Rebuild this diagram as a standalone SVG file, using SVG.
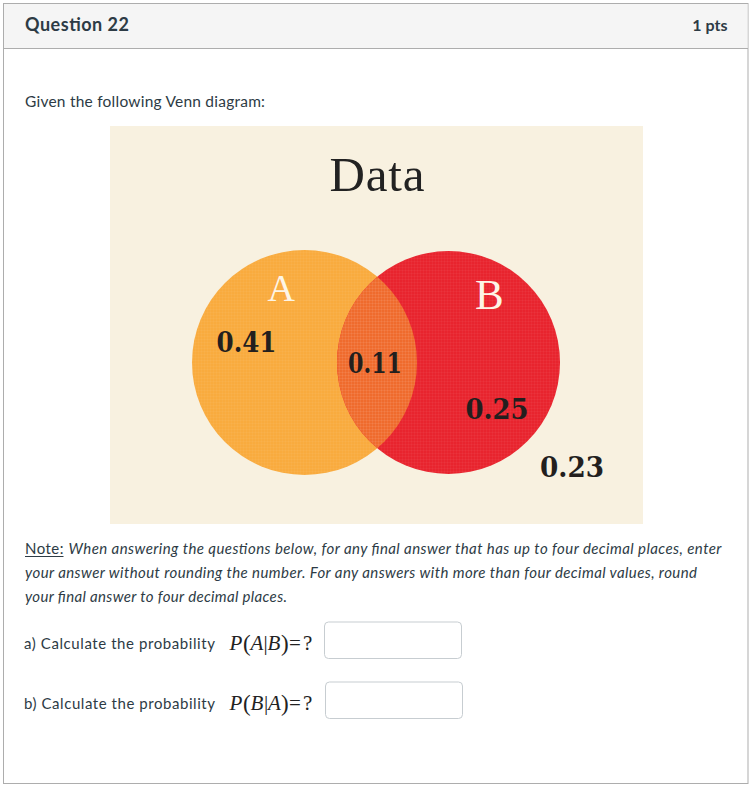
<svg xmlns="http://www.w3.org/2000/svg" width="754" height="786" viewBox="0 0 754 786">
<style>
.ui{font-family:Lato,"Open Sans","Liberation Sans",sans-serif;fill:#2d3b45}
.num{font-family:"DejaVu Serif","Liberation Serif",serif;font-weight:bold;font-size:28px;fill:#231f1e}
.lbl{font-family:"Liberation Serif","DejaVu Serif",serif;fill:#fdf5e6}
.math{font-family:"Liberation Serif","Times New Roman",serif;font-size:21px;fill:#222}
.it{font-style:italic}
.par{font-size:23px}
.box{fill:#ffffff;stroke:#c7cdd1;stroke-width:1}
</style>
<defs>
<clipPath id="clipA"><circle cx="304.5" cy="362.5" r="112.5"/></clipPath>
<pattern id="weave" width="3" height="3" patternUnits="userSpaceOnUse">
<path d="M0 0.5H3M0.5 0V3" stroke="#ffffff" stroke-opacity="0.035" stroke-width="1"/>
</pattern>
</defs>
<rect x="0" y="0" width="754" height="786" fill="#ffffff"/>
<g id="card">
<rect x="3.5" y="3.5" width="744.5" height="780" fill="#ffffff" stroke="#adadad" stroke-width="1"/>
<rect x="4" y="4" width="743.5" height="44" fill="#f5f5f5"/>
<line x1="3.5" y1="48.5" x2="748" y2="48.5" stroke="#adadad" stroke-width="1"/>
<text class="ui" x="25" y="31" font-size="18" font-weight="bold" textLength="104">Question 22</text>
<text class="ui" x="727.5" y="31" font-size="16" font-weight="bold" text-anchor="end">1 pts</text>
<text class="ui" x="25" y="107" font-size="15.5" textLength="240">Given the following Venn diagram:</text>
</g>
<g id="venn">
<rect x="110" y="126" width="533" height="398" fill="#f8f1e0"/>
<text x="377" y="190.5" text-anchor="middle" font-family="'Liberation Serif','DejaVu Serif',serif" font-size="49" fill="#222" textLength="95">Data</text>
<g id="setA">
<circle cx="304.5" cy="362.5" r="112.5" fill="#f9ab3e"/>
</g>
<g id="setB">
<circle cx="448.5" cy="362.5" r="111.5" fill="#e8242e"/>
</g>
<g id="intersection">
<circle cx="448.5" cy="362.5" r="111.5" fill="#ef6b2d" clip-path="url(#clipA)"/>
</g>
<circle cx="304.5" cy="362.5" r="112.5" fill="url(#weave)"/>
<circle cx="448.5" cy="362.5" r="111.5" fill="url(#weave)"/>
<text class="lbl" x="267.5" y="301" font-size="38">A</text>
<text class="lbl" x="475" y="309" font-size="43">B</text>
<text class="num" x="216.5" y="352.3" textLength="60" lengthAdjust="spacingAndGlyphs">0.41</text>
<text class="num" x="348" y="372.7" textLength="54" lengthAdjust="spacingAndGlyphs">0.11</text>
<text class="num" x="465.5" y="419" textLength="63" lengthAdjust="spacingAndGlyphs">0.25</text>
<text class="num" x="540" y="476.7" textLength="64" lengthAdjust="spacingAndGlyphs">0.23</text>
</g>
<g id="note">
<text class="ui" x="25" y="553.5" font-size="15" textLength="38.5">Note:</text>
<line x1="25" y1="556.5" x2="63.5" y2="556.5" stroke="#2d3b45" stroke-width="1"/>
<text class="ui it" x="68.5" y="553.5" font-size="15" textLength="653">When answering the questions below, for any final answer that has up to  four decimal places, enter</text>
<text class="ui it" x="25" y="578" font-size="15" textLength="672">your answer without rounding the number. For any answers with more than four decimal values, round</text>
<text class="ui it" x="25" y="601.5" font-size="15" textLength="262">your final answer to four decimal places.</text>
</g>
<g id="qa">
<text class="ui" x="24" y="648.5" font-size="15" textLength="191">a) Calculate the probability</text>
<text class="math"><tspan class="it" x="229.5" y="650">P</tspan><tspan class="par" x="243" y="651">(</tspan><tspan class="it" x="250.5" y="650">A</tspan><tspan x="263.5" y="650">|</tspan><tspan class="it" x="267.5" y="650">B</tspan><tspan class="par" x="281" y="651">)</tspan><tspan x="289" y="650">=</tspan><tspan x="303" y="650">?</tspan></text>
<rect class="box" x="324.5" y="622" width="137" height="36.5" rx="4"/>
</g>
<g id="qb">
<text class="ui" x="24" y="709" font-size="15" textLength="191">b) Calculate the probability</text>
<text class="math"><tspan class="it" x="229.5" y="710">P</tspan><tspan class="par" x="243" y="711">(</tspan><tspan class="it" x="250.5" y="710">B</tspan><tspan x="264" y="710">|</tspan><tspan class="it" x="268" y="710">A</tspan><tspan class="par" x="281" y="711">)</tspan><tspan x="289" y="710">=</tspan><tspan x="303" y="710">?</tspan></text>
<rect class="box" x="325.5" y="682" width="137" height="36.5" rx="4"/>
</g>
</svg>
